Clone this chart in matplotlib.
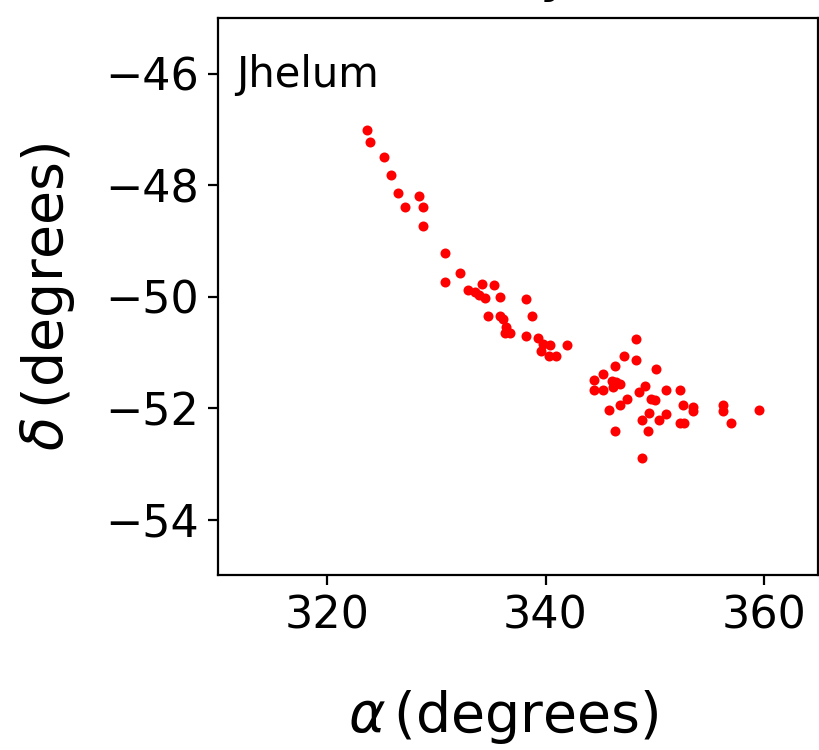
import matplotlib
matplotlib.use("Agg")
import matplotlib.pyplot as plt

ra = [323.6, 323.9, 325.2, 325.8, 326.5, 328.4, 327.1, 328.8, 328.8, 330.8, 330.8,
      332.2, 332.9, 333.5, 334.2, 335.3, 334.5, 333.9, 335.8, 338.2, 334.7, 335.8,
      336.1, 338.8, 336.4, 336.7, 336.3, 338.2, 339.3, 339.8, 340.4, 339.6, 340.3,
      341.0, 342.0,
      348.3, 347.2, 348.3, 346.4, 350.1, 345.3, 344.4, 344.4, 345.3, 346.1, 346.5,
      346.8, 346.2, 349.1, 348.6, 351.0, 352.3, 349.7, 347.5, 346.8, 345.8, 352.6,
      353.5, 353.5, 356.3, 356.3, 359.6, 357.0, 349.5, 348.8, 350.4, 351.0, 352.3,
      352.7, 346.4, 349.4, 348.8, 350.0]
dec = [-47.01, -47.23, -47.50, -47.82, -48.14, -48.19, -48.40, -48.40, -48.73, -49.21, -49.74,
       -49.58, -49.89, -49.92, -49.78, -49.79, -50.02, -49.97, -50.01, -50.05, -50.34, -50.34,
       -50.40, -50.34, -50.55, -50.65, -50.65, -50.70, -50.75, -50.85, -50.86, -50.97, -51.06,
       -51.06, -50.87,
       -50.76, -51.07, -51.13, -51.24, -51.29, -51.39, -51.50, -51.67, -51.67, -51.51, -51.54,
       -51.57, -51.63, -51.60, -51.72, -51.67, -51.67, -51.83, -51.83, -51.94, -52.04, -51.94,
       -51.98, -52.05, -51.95, -52.06, -52.04, -52.27, -52.08, -52.21, -52.21, -52.10, -52.27,
       -52.27, -52.42, -52.42, -52.90, -51.86]

xticks = [320, 340, 360]
yticks = [-46, -48, -50, -52, -54]

fig = plt.figure(figsize=(4.1, 3.75), dpi=200)
ax = fig.add_axes([0.266, 0.233, 0.732, 0.743])
ax.scatter(ra, dec, s=13, c='red', linewidths=0)
ax.set_xlim(310, 365)
ax.set_ylim(-55, -45)
ax.set_xticks(xticks)
ax.set_yticks(yticks)
ax.tick_params(labelsize=16)
ax.set_xlabel(r'$\alpha\,$(degrees)', fontsize=20, labelpad=18)
ax.xaxis.label.set_x(0.475)
ax.set_ylabel(r'$\delta\,$(degrees)', fontsize=20, labelpad=10)
ax.text(0.03, 0.935, 'Jhelum', transform=ax.transAxes, fontsize=15, va='top', ha='left')
fig.text(0.678, 1.013, 'y', fontsize=20, va='baseline', ha='center')
fig.savefig('out.png', dpi=200)
